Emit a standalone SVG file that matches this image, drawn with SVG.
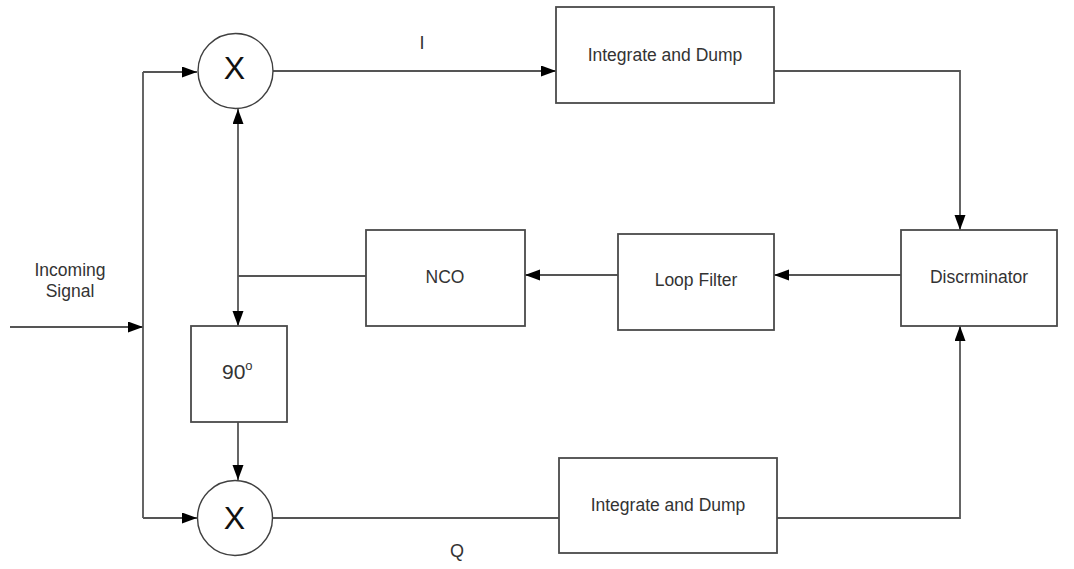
<svg xmlns="http://www.w3.org/2000/svg" width="1074" height="569" viewBox="0 0 1074 569">
<style>
.box{fill:#fff;stroke:#4a4a4a;stroke-width:1.8}
.mix{fill:#fff;stroke:#404040;stroke-width:1.4}
.lbl{font-family:"Liberation Sans",Arial,sans-serif;font-size:17.5px;fill:#333;text-anchor:middle}
.x{font-family:"Liberation Sans",Arial,sans-serif;font-size:32px;fill:#111;text-anchor:middle}
.wire{fill:none;stroke:#555;stroke-width:1.8}
</style>
<defs>
<marker id="ah" markerUnits="userSpaceOnUse" markerWidth="16" markerHeight="12" refX="15" refY="5.5" orient="auto-start-reverse">
<path d="M0,0 L15,5.5 L0,11 z" fill="#000"/>
</marker>
</defs>
<rect width="1074" height="569" fill="#fff"/>
<g id="connectors">
<path class="wire" d="M10,327 H143" marker-end="url(#ah)"/>
<path class="wire" d="M143,72 V518"/>
<path class="wire" d="M143,72 H197" marker-end="url(#ah)"/>
<path class="wire" d="M143,518 H197" marker-end="url(#ah)"/>
<path class="wire" d="M273,71 H556" marker-end="url(#ah)"/>
<path class="wire" d="M774,71 H960 V230" marker-end="url(#ah)"/>
<path class="wire" d="M901,275 H774" marker-end="url(#ah)"/>
<path class="wire" d="M618,275 H525" marker-end="url(#ah)"/>
<path class="wire" d="M366,276 H238"/>
<path class="wire" d="M238,109 V326" marker-start="url(#ah)" marker-end="url(#ah)"/>
<path class="wire" d="M238,422 V480" marker-end="url(#ah)"/>
<path class="wire" d="M273,518 H559"/>
<path class="wire" d="M777,518 H960 V326" marker-end="url(#ah)"/>
</g>
<g id="mixer-i"><circle class="mix" cx="235.5" cy="71" r="37.5"/><text class="x" x="234.5" y="79">X</text></g>
<g id="mixer-q"><circle class="mix" cx="235" cy="518" r="37.5"/><text class="x" x="234.5" y="529">X</text></g>
<g id="int-dump-i"><rect class="box" x="556" y="7" width="218" height="96"/><text class="lbl" x="665" y="61">Integrate and Dump</text></g>
<g id="int-dump-q"><rect class="box" x="559" y="458" width="218" height="95"/><text class="lbl" x="668" y="511">Integrate and Dump</text></g>
<g id="discriminator"><rect class="box" x="901" y="230" width="156" height="96"/><text class="lbl" x="979" y="283">Discrminator</text></g>
<g id="loop-filter"><rect class="box" x="618" y="234" width="156" height="96"/><text class="lbl" x="696" y="286">Loop Filter</text></g>
<g id="nco"><rect class="box" x="366" y="230" width="159" height="96"/><text class="lbl" x="445" y="283">NCO</text></g>
<g id="phase90"><rect class="box" x="191" y="326" width="96" height="96"/><text class="lbl" x="222" y="379" style="font-size:21px;text-anchor:start">90<tspan font-size="13" dy="-9">o</tspan></text></g>
<g id="labels">
<text class="lbl" x="70" y="276">Incoming</text>
<text class="lbl" x="70" y="297">Signal</text>
<text class="lbl" x="422" y="49" style="font-size:18px">I</text>
<text class="lbl" x="457" y="557" style="font-size:18px">Q</text>
</g>
</svg>
